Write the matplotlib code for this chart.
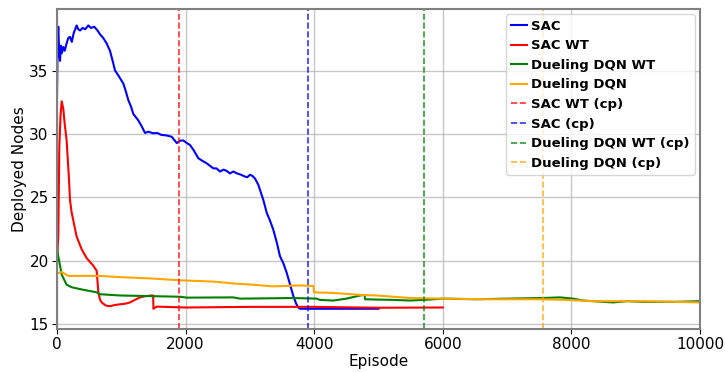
import matplotlib
matplotlib.use("Agg")
import matplotlib.pyplot as plt

# ---- data ----
sac_x = [0, 10, 20, 35, 47, 60, 75, 98, 120, 150, 175, 202, 230, 260, 306, 330, 358, 400, 440, 487, 530, 580, 630, 669,
         720, 770, 824, 860, 902, 960, 1032, 1070, 1109, 1150, 1187, 1264, 1320, 1369, 1420, 1498, 1560, 1620, 1706,
         1784, 1862, 1920, 1965, 2020, 2068, 2130, 2198, 2260, 2328, 2380, 2432, 2480, 2535, 2590, 2639, 2690, 2742,
         2800, 2860, 2924, 2960, 3002, 3040, 3079, 3131, 3157, 3209, 3261, 3310, 3364, 3420, 3468, 3520, 3572,
         3620, 3676, 3720, 3753, 3779, 3850, 4000, 4500, 5000]
sac_y = [33.0, 37.5, 38.5, 36.3, 35.8, 37.0, 36.4, 36.9, 36.6, 37.2, 37.6, 37.7, 37.3, 38.0, 38.6, 38.3, 38.2, 38.4, 38.3, 38.6, 38.4, 38.5, 38.2, 37.9,
         37.6, 37.2, 36.6, 35.9, 35.05, 34.6, 34.0, 33.4, 32.7, 32.2, 31.6, 31.1, 30.6, 30.1, 30.2, 30.07, 30.1, 29.95, 29.9,
         29.8, 29.3, 29.5, 29.5, 29.3, 29.15, 28.7, 28.1, 27.9, 27.7, 27.5, 27.3, 27.3, 27.05, 27.2, 27.1, 26.9, 27.05,
         26.9, 26.8, 26.65, 26.6, 26.8, 26.7, 26.5, 26.0, 25.6, 24.8, 23.8, 23.2, 22.45, 21.4, 20.35, 19.8, 19.05,
         18.2, 17.2, 16.6, 16.3, 16.2, 16.2, 16.2, 16.2, 16.2]

sacwt_x = [0, 20, 36, 55, 73, 98, 120, 150, 187, 202, 228, 306, 384, 462, 565, 617, 643, 670, 695, 760, 824, 900, 980,
           1060, 1135, 1210, 1291, 1380, 1473, 1495, 1500, 1550, 2000, 3000, 4000, 5000, 6000]
sacwt_y = [20.0, 22.0, 29.0, 31.5, 32.6, 32.0, 30.8, 29.5, 26.4, 24.8, 23.8, 21.9, 20.9, 20.2, 19.6, 19.2, 17.5, 16.9, 16.7, 16.45, 16.4, 16.5, 16.55,
           16.6, 16.7, 16.9, 17.1, 17.2, 17.25, 17.25, 16.2, 16.37, 16.3, 16.35, 16.35, 16.28, 16.3]

ddqnwt_x = [0, 5, 20, 73, 150, 228, 409, 617, 669, 980, 1447, 1913, 2017, 2742, 2846, 3676, 4039, 4090, 4298, 4500, 4713,
            4785, 4790, 5230, 5490, 5708, 6003, 6527, 7000, 7558, 7823, 8025, 8181, 8647, 8859, 9118, 9378, 9637, 10000]
ddqnwt_y = [21.0, 20.8, 20.35, 18.9, 18.1, 17.9, 17.7, 17.5, 17.35, 17.25, 17.2, 17.15, 17.08, 17.1, 17.0, 17.05, 17.0, 16.9, 16.85, 17.0, 17.25,
            17.3, 16.95, 16.9, 16.85, 16.9, 17.0, 16.95, 17.0, 17.05, 17.1, 17.0, 16.85, 16.7, 16.8, 16.75, 16.75, 16.75, 16.8]

ddqn_x = [0, 73, 125, 176, 669, 980, 1447, 1913, 2432, 2742, 3053, 3364, 3779, 3990, 3997, 4298, 4713, 4971, 5490,
          6003, 6785, 7558, 7927, 8340, 9118, 10000]
ddqn_y = [19.0, 19.1, 18.95, 18.8, 18.8, 18.7, 18.6, 18.45, 18.35, 18.2, 18.1, 17.97, 18.05, 18.0, 17.5, 17.45, 17.3, 17.25, 17.05,
          17.0, 16.95, 16.95, 16.9, 16.8, 16.8, 16.7]

cp_labels = ["SAC WT (cp)", "SAC (cp)", "Dueling DQN WT (cp)", "Dueling DQN (cp)"]
cp_episodes = [1900, 3900, 5710, 7560]
cp_colors = ["red", "blue", "green", "orange"]

# ---- plot ----
fig = plt.figure(figsize=(7.25, 3.72), dpi=100)
ax = fig.add_axes([57 / 725, 1 - 329 / 372, (700 - 57) / 725, (329 - 9) / 372])

ax.plot(sac_x, sac_y, color="blue", lw=1.5, label="SAC")
ax.plot(sacwt_x, sacwt_y, color="red", lw=1.5, label="SAC WT")
ax.plot(ddqnwt_x, ddqnwt_y, color="green", lw=1.5, label="Dueling DQN WT")
ax.plot(ddqn_x, ddqn_y, color="orange", lw=1.5, label="Dueling DQN")
for lab, ep, c in zip(cp_labels, cp_episodes, cp_colors):
    ax.axvline(ep, color=c, ls="--", lw=1.2, alpha=0.8, label=lab)

ax.set_xlim(0, 10000)
ax.set_ylim(14.6, 39.9)
ax.set_xticks([0, 2000, 4000, 6000, 8000, 10000])
ax.set_yticks([15, 20, 25, 30, 35])
ax.grid(True, color="#b0b0b0", lw=1.0, alpha=0.7)
ax.tick_params(labelsize=11, pad=2.5)
for s in ax.spines.values():
    s.set_color("#808080")
    s.set_linewidth(1.5)
ax.set_xlabel("Episode", fontsize=11, labelpad=1)
ax.set_ylabel("Deployed Nodes", fontsize=11, labelpad=2)
ax.legend(loc="upper right", prop={"weight": "bold", "size": 9.5}, handlelength=1.2,
          handletextpad=0.3, labelspacing=0.5, borderaxespad=0.4)

fig.savefig("out.png", dpi=100)
